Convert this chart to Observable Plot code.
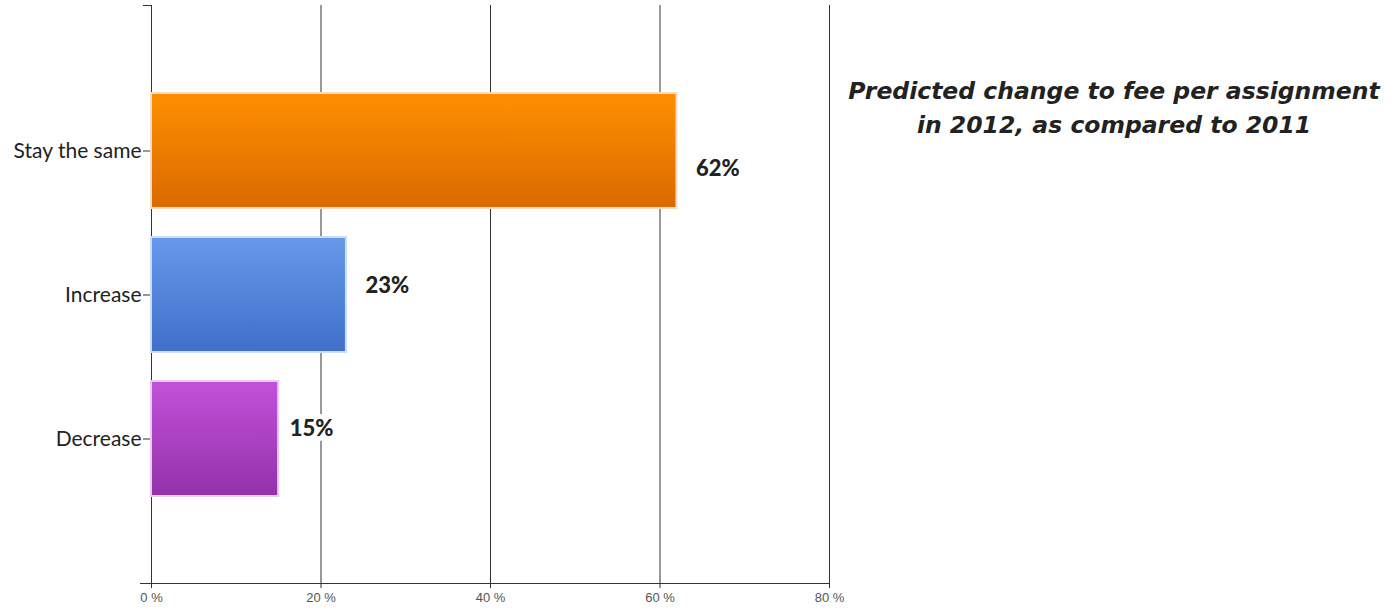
<!DOCTYPE html>
<html>
<head>
<meta charset="utf-8">
<script src="https://cdn.jsdelivr.net/npm/d3@7"></script>
<script src="https://cdn.jsdelivr.net/npm/@observablehq/plot@0.6"></script>
<style>
  html, body { margin: 0; padding: 0; background: #fff; }
  #wrap { position: relative; width: 1397px; height: 611px; }
  #chart { position: absolute; left: 0; top: 0; width: 860px; }
  #title { position: absolute; left: 814px; top: 74px; width: 600px; text-align: center;
    font-family: "DejaVu Sans", sans-serif; font-weight: 700; font-style: italic;
    font-size: 23.5px; line-height: 34px; color: #222; white-space: nowrap; }
</style>
</head>
<body>
<div id="wrap"><div id="chart"></div><div id="title">Predicted change to fee per assignment<br>in 2012, as compared to 2011</div></div>
<script>
const categories = ["Stay the same", "Increase", "Decrease"];
const values = [62, 23, 15];
const xTicks = [0, 20, 40, 60, 80];

const data = categories.map((c, i) => ({cat: c, value: values[i]}));

const gradients = [
  {id: "g0", top: "#ff8f00", bottom: "#d96a00", stroke: "#f3dcc4"},
  {id: "g1", top: "#6698ea", bottom: "#3f6fc9", stroke: "#cddcf2"},
  {id: "g2", top: "#c252da", bottom: "#9331a9", stroke: "#e6cdec"}
];
const labelOffsets = [{dx: 19, dy: 18}, {dx: 19, dy: -9}, {dx: 11, dy: -10}];

const W = 860, ML = 151, MR = 31;

const defs = () => {
  const d = d3.create("svg:defs");
  for (const g of gradients) {
    const lg = d.append("linearGradient").attr("id", g.id).attr("x1", 0).attr("y1", 0).attr("x2", 0).attr("y2", 1);
    lg.append("stop").attr("offset", "0%").attr("stop-color", g.top);
    lg.append("stop").attr("offset", "100%").attr("stop-color", g.bottom);
  }
  return d.node();
};

const marks = [
  defs,
  Plot.ruleX(xTicks, {stroke: "#333", strokeWidth: 1}),
  Plot.frame({anchor: "bottom", stroke: "#333", insetLeft: -11}),
  Plot.frame({anchor: "top", stroke: "#333", insetLeft: -8, insetRight: W - ML - MR}),
  Plot.axisX({ticks: xTicks, tickFormat: d => d + " %", tickSize: 5, tickPadding: 4,
    fontSize: 13, fill: "#555", stroke: "#333", fontFamily: "'Liberation Sans Narrow', 'Liberation Sans', Arial, sans-serif"}),
  Plot.axisY({tickSize: 8, tickPadding: 2, fontSize: 21, fill: "#222", stroke: "#333",
    fontFamily: "Lato, 'Open Sans', sans-serif"})
];
categories.forEach((c, i) => {
  marks.push(Plot.barX(data, {filter: d => d.cat === c, x: "value", y: "cat",
    fill: `url(#${gradients[i].id})`, stroke: gradients[i].stroke, strokeWidth: 2}));
});
categories.forEach((c, i) => {
  marks.push(Plot.text(data, {filter: d => d.cat === c, x: "value", y: "cat",
    text: d => d.value + "%", textAnchor: "start", dx: labelOffsets[i].dx, dy: labelOffsets[i].dy,
    fontSize: 22, fontWeight: 900, fill: "#222", stroke: "white", strokeWidth: 10,
    fontFamily: "Lato, 'Open Sans', sans-serif"}));
});

const chart = Plot.plot({
  width: W,
  height: 611,
  marginLeft: ML,
  marginRight: MR,
  marginTop: 5,
  marginBottom: 28,
  x: {domain: [0, 80], label: null},
  y: {domain: categories, padding: 0.204, insetTop: 58, insetBottom: 57, label: null},
  style: {background: "white"},
  marks
});
document.getElementById("chart").appendChild(chart);
</script>
</body>
</html>
